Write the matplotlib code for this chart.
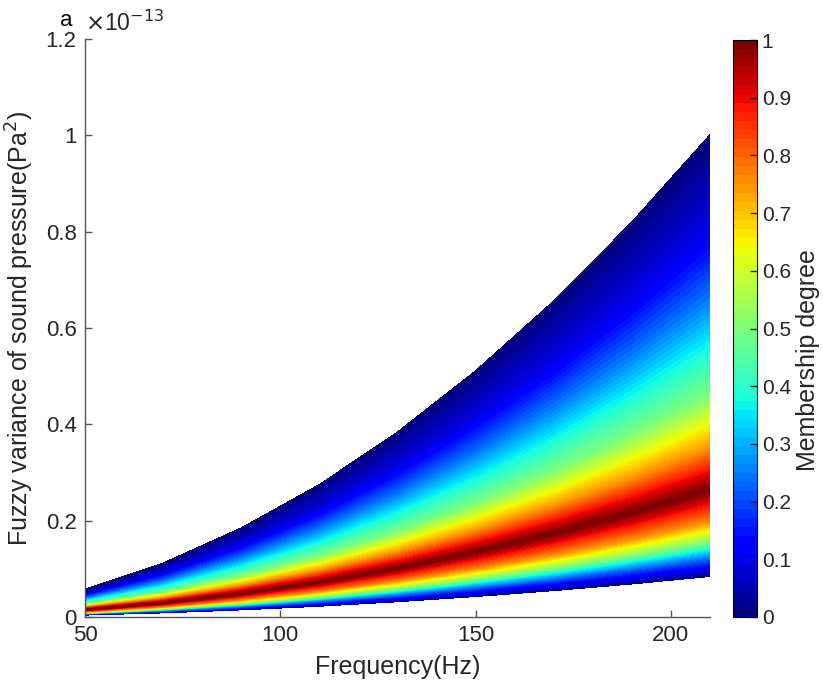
import numpy as np
import matplotlib
matplotlib.use("Agg")
import matplotlib.pyplot as plt
import matplotlib.ticker as mtick

plt.rcParams['font.family'] = ['Liberation Sans', 'DejaVu Sans']

# frequency grid (Hz)
freq = [50, 70, 90, 110, 130, 150, 170, 190, 210]

# fuzzy variance of sound pressure (x1e-13 Pa^2) at each membership level
# upper branch: membership 0 -> 1
var_up_000 = [0.057, 0.111, 0.184, 0.274, 0.383, 0.510, 0.655, 0.819, 1.000]
var_up_010 = [0.0456, 0.0888, 0.1474, 0.2193, 0.3065, 0.4083, 0.5243, 0.6553, 0.800]
var_up_025 = [0.0376, 0.0732, 0.1215, 0.1808, 0.2527, 0.3366, 0.4323, 0.5403, 0.660]
var_up_050 = [0.0263, 0.0512, 0.0849, 0.1263, 0.1766, 0.2352, 0.3021, 0.3776, 0.461]
var_up_075 = [0.0199, 0.0388, 0.0644, 0.0958, 0.1340, 0.1785, 0.2292, 0.2864, 0.350]
# peak (membership 1)
var_peak = [0.0151, 0.0294, 0.0488, 0.0726, 0.1015, 0.1352, 0.1736, 0.217, 0.265]
# lower branch: membership 1 -> 0
var_lo_075 = [0.0113, 0.0221, 0.0366, 0.0545, 0.0761, 0.1014, 0.1302, 0.1628, 0.199]
var_lo_050 = [0.0090, 0.0175, 0.0290, 0.0432, 0.0604, 0.0804, 0.1033, 0.1291, 0.158]
var_lo_025 = [0.0072, 0.0140, 0.0232, 0.0345, 0.0482, 0.0642, 0.0825, 0.1031, 0.126]
var_lo_000 = [0.0048, 0.0094, 0.0156, 0.0232, 0.0325, 0.0433, 0.0556, 0.0694, 0.085]

rows = [var_lo_000, var_lo_025, var_lo_050, var_lo_075, var_peak,
        var_up_075, var_up_050, var_up_025, var_up_010, var_up_000]
mu_rows = [0, 0.25, 0.5, 0.75, 1, 0.75, 0.5, 0.25, 0.1, 0]

V = np.array(rows)
F = np.tile(np.array(freq, dtype=float), (len(rows), 1))
M = np.tile(np.array(mu_rows, dtype=float)[:, None], (1, len(freq)))

txt = '#262626'
fig = plt.figure(figsize=(8.23, 6.93), dpi=100)
ax = fig.add_axes([85/823, 76/693, 625/823, 578/693])
cax = fig.add_axes([733/823, 76/693, 24/823, 577/693])

cmap = plt.get_cmap('jet', 64)
cs = ax.contourf(F, V, M, levels=np.linspace(0, 1.0001, 65), cmap=cmap, antialiased=False)
cs.set_edgecolor('face')
cs.set_linewidth(0.6)

ax.set_xlim(50, 210)
ax.set_ylim(0, 1.2)
ax.set_xticks([50, 100, 150, 200])
ax.set_yticks(np.arange(0, 1.21, 0.2))
ax.yaxis.set_major_formatter(mtick.FuncFormatter(lambda v, p: '%g' % round(v, 2)))
for s in ['top', 'right']:
    ax.spines[s].set_visible(False)
for s in ['left', 'bottom']:
    ax.spines[s].set_color('#555555')
    ax.spines[s].set_linewidth(1.0)
ax.tick_params(direction='in', length=5, width=1, color='#555555', labelsize=16,
               labelcolor=txt, pad=6)

ax.set_xlabel('Frequency(Hz)', fontsize=18, color=txt, labelpad=6)
ax.set_ylabel('Fuzzy variance of sound pressure(Pa$^2$)', fontsize=18, color=txt, labelpad=7)
ax.text(0.0, 1.005, r'$\times$10$^{-13}$', transform=ax.transAxes, fontsize=16.5,
        color=txt, ha='left', va='bottom')
fig.text(60/823, 1 - 20/693, 'a', fontsize=16, color='k', va='center')

sm = plt.cm.ScalarMappable(cmap=cmap, norm=plt.Normalize(0, 1))
cb = fig.colorbar(sm, cax=cax)
cb.set_ticks(np.arange(0, 1.01, 0.1))
cb.ax.yaxis.set_major_formatter(mtick.FuncFormatter(lambda v, p: '%g' % round(v, 2)))
cb.ax.tick_params(direction='in', length=5, width=1, labelsize=15, labelcolor=txt, color='#262626')
cb.outline.set_linewidth(0.8)
cb.set_label('Membership degree', fontsize=18, color=txt)
cb.ax.yaxis.set_label_coords(2.62, 0.445)

fig.savefig('out.png', dpi=100)
